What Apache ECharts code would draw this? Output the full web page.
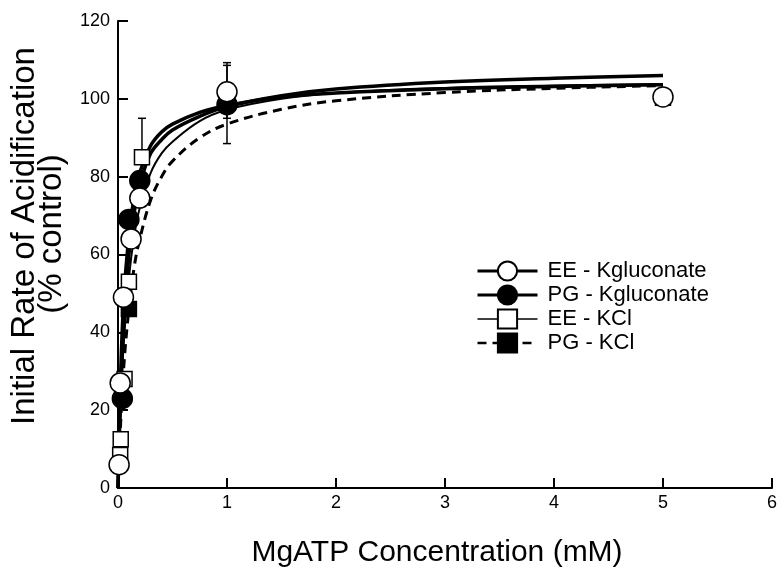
<!DOCTYPE html>
<html>
<head>
<meta charset="utf-8">
<script src="https://cdn.jsdelivr.net/npm/echarts@6/dist/echarts.min.js"></script>
<style>html,body{margin:0;padding:0;background:#fff;}#c{width:780px;height:572px;}</style>
</head>
<body>
<div id="c"></div>
<script>
// ---- data ----
var seriesNames = ['EE - Kgluconate', 'PG - Kgluconate', 'EE - KCl', 'PG - KCl'];
var xTitle = 'MgATP Concentration (mM)';
var yTitle1 = 'Initial Rate of Acidification';
var yTitle2 = '(% control)';

// measured points
var eeKglucX = [0.01, 0.02, 0.05, 0.12, 0.2, 1, 5];
var eeKglucY = [6, 27, 49, 64, 74.5, 101.8, 100.5];
var pgKglucX = [0.04, 0.1, 0.2, 1];
var pgKglucY = [23, 69, 79, 98.5];
var eeKclX = [0.02, 0.025, 0.06, 0.1, 0.22, 5];
var eeKclY = [8.5, 12.5, 28, 53, 85, 100.3];
var pgKclX = [0.1];
var pgKclY = [46];

// fitted curves
var curveX = [0, 0.02, 0.05, 0.1, 0.15, 0.2, 0.3, 0.4, 0.5, 0.75, 1, 1.5, 2, 3, 4, 5];
var eeKglucCurve = [0, 20, 41, 60, 71, 78, 86, 89.5, 92, 95.5, 98, 100.8, 102.5, 104.3, 105.3, 106];
var pgKglucCurve = [0, 25, 47, 65, 75, 81, 88, 91.5, 93.5, 96.5, 98.3, 100.5, 101.5, 102.6, 103.2, 103.6];
var eeKclCurve = [0, 17, 36, 54, 65, 72, 81, 86, 89, 94.3, 97.2, 100, 101.5, 102.8, 103.4, 103.8];
var pgKclCurve = [0, 14, 30, 46, 57, 64, 74, 80, 84, 90, 93.5, 97.3, 99.5, 101.6, 102.7, 103.4];

// error bars
var errX = [0.22, 1, 1];
var errLow = [85, 88.5, 95];
var errHigh = [95, 108.6, 109.3];

// axis ticks
var xTicks = [0, 1, 2, 3, 4, 5, 6];
var yTicks = [0, 20, 40, 60, 80, 100, 120];

// ---- build ----
function zip(xs, ys) { return xs.map(function (x, i) { return [x, ys[i]]; }); }

var FONT = 'Liberation Sans, Arial, Helvetica, sans-serif';
var styles = [
  { symbol: 'circle', size: 20, fill: '#fff', lw: 3.5, type: 'solid' },
  { symbol: 'circle', size: 20, fill: '#000', lw: 3.5, type: 'solid' },
  { symbol: 'rect', size: 15, fill: '#fff', lw: 2, type: 'solid' },
  { symbol: 'rect', size: 15, fill: '#000', lw: 3, type: [9, 6] }
];
var curves = [eeKglucCurve, pgKglucCurve, eeKclCurve, pgKclCurve];
var points = [zip(eeKglucX, eeKglucY), zip(pgKglucX, pgKglucY), zip(eeKclX, eeKclY), zip(pgKclX, pgKclY)];

var series = [];
seriesNames.forEach(function (n, i) {
  var s = styles[i];
  series.push({
    name: n, type: 'line', smooth: 0.4, showSymbol: false, symbol: s.symbol, symbolSize: s.size,
    data: zip(curveX, curves[i]),
    lineStyle: { color: '#000', width: s.lw, type: s.type },
    itemStyle: { color: s.fill, borderColor: '#000', borderWidth: 1.5 },
    z: 2, silent: true
  });
});
series.push({
  type: 'custom', name: 'err', z: 3, silent: true,
  data: errX.map(function (x, i) { return [x, errLow[i], errHigh[i]]; }),
  renderItem: function (params, api) {
    var lo = api.coord([api.value(0), api.value(1)]);
    var hi = api.coord([api.value(0), api.value(2)]);
    var w = 4;
    var st = { stroke: '#000', lineWidth: 1.5 };
    return { type: 'group', children: [
      { type: 'line', shape: { x1: lo[0], y1: lo[1], x2: hi[0], y2: hi[1] }, style: st },
      { type: 'line', shape: { x1: lo[0] - w, y1: lo[1], x2: lo[0] + w, y2: lo[1] }, style: st },
      { type: 'line', shape: { x1: hi[0] - w, y1: hi[1], x2: hi[0] + w, y2: hi[1] }, style: st }
    ] };
  }
});
var order = [1, 3, 2, 0];
order.forEach(function (i) {
  var s = styles[i];
  series.push({
    name: seriesNames[i], type: 'scatter', symbol: s.symbol, symbolSize: s.size,
    data: points[i],
    itemStyle: { color: s.fill, borderColor: '#000', borderWidth: 1.5, opacity: 1 },
    z: 4 + (s.fill === '#fff' ? 1 : 0), silent: true
  });
});

var legendData = seriesNames.map(function (n, i) {
  return { name: n, lineStyle: { width: styles[i].lw - 0.5, type: styles[i].type, color: '#000' } };
});

var chart = echarts.init(document.getElementById('c'), null, { renderer: 'canvas' });
chart.setOption({
  animation: false,
  backgroundColor: '#fff',
  grid: { left: 118, right: 3, top: 21, bottom: 84 },
  legend: {
    data: legendData, orient: 'vertical', left: 476, top: 260,
    itemWidth: 60, itemHeight: 24, itemGap: 2, padding: 0,
    selectedMode: false,
    textStyle: { fontFamily: FONT, fontSize: 22, color: '#000', padding: [0, 0, 0, 5] }
  },
  graphic: [
    { type: 'text', x: 437, y: 553, style: { text: xTitle, font: '30px ' + FONT, fill: '#000', textAlign: 'center', textVerticalAlign: 'middle' } },
    { type: 'text', x: 25, y: 236, rotation: Math.PI / 2, style: { text: yTitle1, font: '33px ' + FONT, fill: '#000', textAlign: 'center', textVerticalAlign: 'middle' } },
    { type: 'text', x: 52, y: 234, rotation: Math.PI / 2, style: { text: yTitle2, font: '33px ' + FONT, fill: '#000', textAlign: 'center', textVerticalAlign: 'middle' } }
  ],
  xAxis: {
    type: 'value', min: 0, max: 6, interval: 1,
    axisLine: { lineStyle: { color: '#000', width: 2 } },
    axisTick: { inside: true, length: 10, lineStyle: { color: '#000', width: 2 } },
    axisLabel: { fontFamily: FONT, fontSize: 18, color: '#000', margin: 6,
      formatter: function (v) { return xTicks.indexOf(v) >= 0 ? String(v) : ''; } },
    splitLine: { show: false }
  },
  yAxis: {
    type: 'value', min: 0, max: 120, interval: 20,
    axisLine: { lineStyle: { color: '#000', width: 2 } },
    axisTick: { inside: true, length: 10, lineStyle: { color: '#000', width: 2 } },
    axisLabel: { fontFamily: FONT, fontSize: 18, color: '#000', margin: 8,
      formatter: function (v) { return yTicks.indexOf(v) >= 0 ? String(v) : ''; } },
    splitLine: { show: false }
  },
  series: series
});
</script>
</body>
</html>
